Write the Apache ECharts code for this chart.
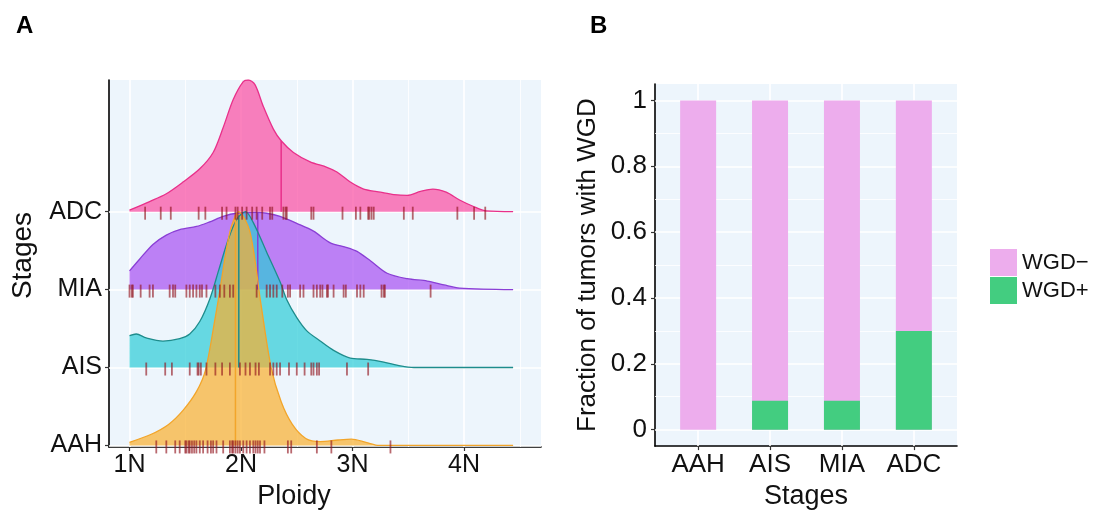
<!DOCTYPE html>
<html>
<head>
<meta charset="utf-8">
<script src="https://cdn.jsdelivr.net/npm/echarts@6/dist/echarts.min.js"></script>
<style>
html, body {margin: 0; padding: 0; background: #fff;}
#main {width: 1095px; height: 515px;}
</style>
</head>
<body>
<div id="main"></div>
<script>
var stages = ['AAH', 'AIS', 'MIA', 'ADC'];
var ploidyTicks = [1, 2, 3, 4];
var ploidyMinor = [1.5, 2.5, 3.5, 4.5];
var stageRows = [0, 1, 2, 3];
var fracTicks = [0, 0.2, 0.4, 0.6, 0.8, 1];
var fracMinor = [0.1, 0.3, 0.5, 0.7, 0.9];

// ridge outlines: ploidy and height (in row units)
var aahPloidy = [1.0, 1.19, 1.35, 1.48, 1.60, 1.68, 1.77, 1.80, 1.90, 1.98, 2.08, 2.18, 2.27, 2.36, 2.46, 2.58, 2.71, 2.87, 2.99, 3.12, 3.24, 4.44];
var aahDensity = [0.04, 0.14, 0.27, 0.45, 0.69, 0.96, 1.65, 1.90, 2.74, 3.0, 2.74, 1.80, 1.0, 0.56, 0.27, 0.09, 0.05, 0.07, 0.08, 0.04, 0, 0];
var aisPloidy = [1.0, 1.06, 1.15, 1.30, 1.45, 1.54, 1.63, 1.72, 1.80, 1.88, 1.96, 2.04, 2.11, 2.23, 2.35, 2.41, 2.50, 2.59, 2.71, 2.83, 2.98, 3.13, 3.28, 3.43, 3.55, 4.44];
var aisDensity = [0.41, 0.43, 0.38, 0.34, 0.37, 0.43, 0.59, 0.88, 1.25, 1.62, 1.90, 2.0, 1.86, 1.48, 1.10, 0.87, 0.64, 0.47, 0.34, 0.22, 0.12, 0.105, 0.07, 0.02, 0, 0];
var miaPloidy = [1.0, 1.09, 1.21, 1.33, 1.45, 1.60, 1.72, 1.84, 1.96, 2.14, 2.23, 2.35, 2.50, 2.65, 2.80, 2.95, 3.04, 3.16, 3.31, 3.49, 3.67, 3.82, 3.96, 4.44];
var miaDensity = [0.24, 0.39, 0.58, 0.70, 0.77, 0.81, 0.87, 0.94, 0.98, 0.99, 0.98, 0.94, 0.85, 0.75, 0.60, 0.54, 0.49, 0.37, 0.21, 0.14, 0.11, 0.06, 0.02, 0];
var adcPloidy = [1.0, 1.18, 1.33, 1.48, 1.63, 1.75, 1.84, 1.93, 2.02, 2.065, 2.125, 2.2, 2.29, 2.36, 2.47, 2.62, 2.77, 2.86, 2.98, 3.1, 3.25, 3.37, 3.49, 3.61, 3.72, 3.84, 3.96, 4.08, 4.2, 4.44];
var adcDensity = [0.02, 0.13, 0.23, 0.38, 0.55, 0.76, 1.08, 1.44, 1.67, 1.69, 1.63, 1.35, 1.06, 0.91, 0.76, 0.64, 0.57, 0.51, 0.38, 0.29, 0.25, 0.22, 0.21, 0.26, 0.29, 0.25, 0.15, 0.07, 0.01, 0];

// sample ploidies (rug marks)
var aahRug = [1.24, 1.33, 1.41, 1.45, 1.50, 1.51, 1.53, 1.54, 1.56, 1.58, 1.60, 1.63, 1.66, 1.70, 1.73, 1.75, 1.78, 1.84, 1.90, 1.92, 1.93, 1.95, 1.97, 1.99, 2.02, 2.05, 2.08, 2.11, 2.13, 2.15, 2.17, 2.21, 2.42, 2.45, 2.68, 2.81, 3.34];
var aisRug = [1.15, 1.32, 1.38, 1.54, 1.61, 1.62, 1.64, 1.69, 1.77, 1.83, 1.90, 1.99, 2.04, 2.08, 2.13, 2.16, 2.26, 2.29, 2.32, 2.35, 2.43, 2.50, 2.57, 2.63, 2.65, 2.68, 2.70, 2.95, 3.14];
var miaRug = [1.0, 1.02, 1.03, 1.10, 1.18, 1.21, 1.36, 1.39, 1.41, 1.51, 1.54, 1.57, 1.60, 1.63, 1.65, 1.69, 1.77, 1.81, 1.85, 1.90, 1.93, 2.14, 2.23, 2.26, 2.29, 2.32, 2.37, 2.42, 2.44, 2.53, 2.56, 2.65, 2.68, 2.71, 2.73, 2.77, 2.78, 2.83, 2.92, 2.94, 3.04, 3.07, 3.10, 3.26, 3.28, 3.29, 3.70];
var adcRug = [1.14, 1.28, 1.37, 1.62, 1.68, 1.83, 1.87, 1.95, 1.97, 2.01, 2.05, 2.10, 2.14, 2.19, 2.26, 2.28, 2.38, 2.40, 2.41, 2.63, 2.65, 2.91, 3.03, 3.07, 3.14, 3.15, 3.17, 3.19, 3.46, 3.54, 3.94, 4.09, 4.19];

// median line per stage and its height under the curve
var stageMedian = [1.95, 1.98, 2.15, 2.36];
var medianHeight = [2.96, 1.95, 0.99, 0.91];

// panel B: fraction of tumors per stage
var wgdPos = [0, 0.088, 0.088, 0.30];
var wgdNeg = [1, 0.912, 0.912, 0.70];

var ridges = [
    [aahPloidy, aahDensity, aahRug],
    [aisPloidy, aisDensity, aisRug],
    [miaPloidy, miaDensity, miaRug],
    [adcPloidy, adcDensity, adcRug]
];
var ridgeFill = ['rgba(250,175,46,0.7)', 'rgba(44,204,215,0.7)', 'rgba(167,78,242,0.7)', 'rgba(251,75,161,0.7)'];
var ridgeLine = ['#F2A52A', '#1E8C8C', '#8A3FD5', '#E8308A'];
var bg = '#EDF5FC';
var textCol = '#111';

function gridLines(xs, xsMinor, ys, ysMinor) {
    var d = [];
    xs.forEach(function (v) { d.push({xAxis: v, lineStyle: {color: '#fff', width: 1.6, type: 'solid'}}); });
    xsMinor.forEach(function (v) { d.push({xAxis: v, lineStyle: {color: '#fff', width: 0.8, type: 'solid'}}); });
    ys.forEach(function (v) { d.push({yAxis: v, lineStyle: {color: '#fff', width: 1.6, type: 'solid'}}); });
    ysMinor.forEach(function (v) { d.push({yAxis: v, lineStyle: {color: '#fff', width: 0.8, type: 'solid'}}); });
    return d;
}

var series = [];
series.push({
    type: 'line', xAxisIndex: 0, yAxisIndex: 0, data: [], z: 1, silent: true,
    markLine: {silent: true, symbol: 'none', z: 1, animation: false, label: {show: false},
        data: gridLines(ploidyTicks, ploidyMinor, stageRows, [])}
});
series.push({
    type: 'line', xAxisIndex: 1, yAxisIndex: 1, data: [], z: 1, silent: true,
    markLine: {silent: true, symbol: 'none', z: 1, animation: false, label: {show: false},
        data: gridLines([1, 2, 3, 4], [], fracTicks, fracMinor)}
});

// back ridge first so the lower ones sit in front
for (var i = 3; i >= 0; i--) {
    var r = ridges[i];
    var base = i;
    series.push({
        type: 'line', xAxisIndex: 0, yAxisIndex: 0, z: 2,
        data: r[0].map(function (x, k) { return [x, base + r[1][k]]; }),
        smooth: 0.3, symbol: 'none',
        lineStyle: {color: ridgeLine[i], width: 1.3},
        areaStyle: {color: ridgeFill[i], origin: base, opacity: 1}
    });
    series.push({
        type: 'line', xAxisIndex: 0, yAxisIndex: 0, z: 2, symbol: 'none',
        data: [[stageMedian[i], base], [stageMedian[i], base + medianHeight[i]]],
        lineStyle: {color: ridgeLine[i], width: 1.5}
    });
    series.push({
        type: 'scatter', xAxisIndex: 0, yAxisIndex: 0, z: 2,
        data: r[2].map(function (x) { return [x, base]; }),
        symbol: 'rect', symbolSize: [1.8, 13], symbolOffset: [0, 1.5],
        itemStyle: {color: 'rgba(145,20,30,0.8)'}
    });
}

// both axes of panel B are numeric, so the stack is summed here by hand:
// the WGD- bar reaches WGD+ + WGD-, and the WGD+ bar is drawn over its base
series.push({
    name: 'WGD\u2212', type: 'bar', xAxisIndex: 1, yAxisIndex: 1, barWidth: 36, z: 2,
    data: wgdNeg.map(function (v, k) { return [k + 1, wgdPos[k] + v]; }),
    itemStyle: {color: '#EDADED'}
});
series.push({
    name: 'WGD+', type: 'bar', xAxisIndex: 1, yAxisIndex: 1, barWidth: 36, barGap: '-100%', z: 3,
    data: wgdPos.map(function (v, k) { return [k + 1, v]; }),
    itemStyle: {color: '#43CD80'}
});

function axisBase(extra) {
    var a = {
        type: 'value',
        axisLine: {show: true, onZero: false, lineStyle: {color: '#000', width: 1.6}},
        axisTick: {show: true, length: 4, lineStyle: {color: '#333', width: 1.2}},
        axisLabel: {fontSize: 25, color: textCol},
        splitLine: {show: false},
        nameLocation: 'middle',
        nameTextStyle: {fontSize: 27, color: textCol}
    };
    for (var k in extra) {
        if (typeof extra[k] === 'object' && a[k]) {
            for (var j in extra[k]) a[k][j] = extra[k][j];
        } else {
            a[k] = extra[k];
        }
    }
    return a;
}

var chart = echarts.init(document.getElementById('main'));
chart.setOption({
    animation: false,
    textStyle: {fontFamily: 'Liberation Sans, Arial, sans-serif'},
    title: [
        {text: 'A', left: 11, top: 9, textStyle: {fontSize: 24, fontWeight: 'bold', color: '#000'}},
        {text: 'B', left: 585, top: 9, textStyle: {fontSize: 24, fontWeight: 'bold', color: '#000'}}
    ],
    legend: {
        data: ['WGD\u2212', 'WGD+'],
        orient: 'vertical', left: 985, top: 244,
        itemWidth: 27, itemHeight: 27, itemGap: 1, icon: 'rect',
        textStyle: {fontSize: 22, color: textCol}
    },
    grid: [
        {left: 109, top: 80, width: 432, height: 372, show: true, backgroundColor: bg, borderWidth: 0},
        {left: 655, top: 84, width: 302, height: 367, show: true, backgroundColor: bg, borderWidth: 0}
    ],
    xAxis: [
        axisBase({
            gridIndex: 0, min: 0.816, max: 4.69, name: 'Ploidy', nameGap: 36,
            nameTextStyle: {padding: [0, 62, 0, 0]},
            axisTick: {customValues: ploidyTicks},
            axisLabel: {customValues: ploidyTicks, margin: 6, formatter: function (v) { return v + 'N'; }}
        }),
        axisBase({
            gridIndex: 1, min: 0.4, max: 4.6, name: 'Stages', nameGap: 34,
            axisTick: {customValues: [1, 2, 3, 4]},
            axisLabel: {customValues: [1, 2, 3, 4], margin: 6, fontSize: 26, formatter: function (v) { return stages[Math.round(v) - 1]; }}
        })
    ],
    yAxis: [
        axisBase({
            gridIndex: 0, min: -0.02, max: 4.69, name: 'Stages', nameGap: 72, nameRotate: 90,
            nameTextStyle: {fontSize: 28, padding: [0, 0, 0, 16]},
            axisTick: {customValues: stageRows},
            axisLabel: {customValues: stageRows, margin: 7, formatter: function (v) { return stages[Math.round(v)]; }}
        }),
        axisBase({
            gridIndex: 1, min: -0.05, max: 1.05, name: 'Fraction of tumors with WGD', nameGap: 54, nameRotate: 90,
            nameTextStyle: {fontSize: 26},
            axisTick: {customValues: fracTicks},
            axisLabel: {customValues: fracTicks, margin: 8, fontSize: 26, formatter: function (v) { return String(+v.toFixed(1)); }}
        })
    ],
    series: series
});
</script>
</body>
</html>
